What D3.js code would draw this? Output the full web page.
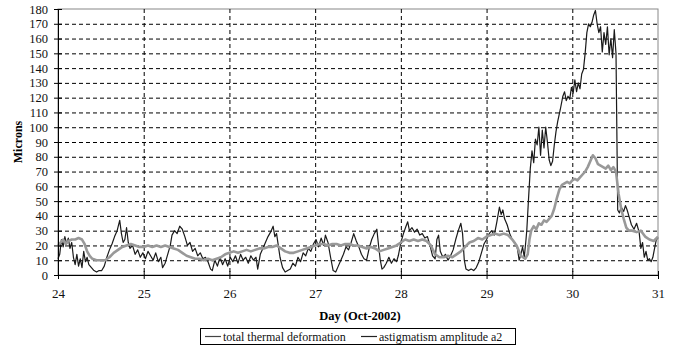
<!DOCTYPE html>
<html>
<head>
<meta charset="utf-8">
<script src="https://cdn.jsdelivr.net/npm/d3@7"></script>
<style>
  body { margin: 0; background: #fff; }
  svg { display: block; }
  .tick text { font-family: "Liberation Serif", "Times New Roman", serif; }
</style>
</head>
<body>
<svg id="chart" width="673" height="349"></svg>
<script>
// ---- data ----
const dayTicks = [24, 25, 26, 27, 28, 29, 30, 31];
const micronTicks = d3.range(0, 181, 10);
const seriesNames = ["total thermal deformation", "astigmatism amplitude a2"];

// total thermal deformation (black, noisy)
const thermalDays = [24.00,24.02,24.04,24.06,24.08,24.10,24.12,24.14,24.16,24.18,24.20,24.22,24.24,24.26,24.28,24.30,24.32,24.34,24.36,24.39,
  24.42,24.45,24.48,24.51,24.54,24.57,24.60,24.63,24.66,24.69,24.72,24.74,24.76,24.78,24.80,24.82,24.84,24.87,24.90,24.93,
  24.96,24.99,25.02,25.05,25.08,25.11,25.14,25.17,25.20,25.22,25.25,25.28,25.31,25.33,25.36,25.39,25.42,25.45,25.48,25.51,
  25.54,25.57,25.60,25.63,25.66,25.69,25.72,25.75,25.78,25.80,25.83,25.86,25.89,25.92,25.95,25.98,26.01,26.04,26.07,26.10,
  26.13,26.16,26.19,26.22,26.25,26.28,26.31,26.33,26.36,26.39,26.42,26.45,26.48,26.51,26.53,26.55,26.57,26.59,26.62,26.65,
  26.68,26.71,26.74,26.77,26.80,26.83,26.86,26.89,26.92,26.95,26.98,27.01,27.04,27.07,27.10,27.12,27.15,27.18,27.21,27.24,
  27.27,27.30,27.33,27.36,27.39,27.42,27.45,27.48,27.51,27.54,27.57,27.60,27.63,27.66,27.69,27.72,27.74,27.76,27.78,27.80,
  27.83,27.86,27.89,27.92,27.95,27.97,28.00,28.03,28.06,28.08,28.10,28.13,28.16,28.19,28.22,28.25,28.28,28.31,28.34,28.37,
  28.40,28.42,28.44,28.46,28.49,28.52,28.55,28.58,28.61,28.64,28.67,28.70,28.72,28.74,28.76,28.79,28.82,28.85,28.88,28.91,
  28.94,28.97,29.00,29.03,29.06,29.09,29.12,29.15,29.17,29.19,29.21,29.24,29.27,29.30,29.33,29.36,29.38,29.40,29.42,29.44,
  29.46,29.47,29.49,29.51,29.53,29.55,29.57,29.59,29.61,29.63,29.65,29.67,29.69,29.71,29.73,29.75,29.77,29.79,29.81,29.83,
  29.86,29.89,29.91,29.93,29.95,29.97,29.99,30.01,30.03,30.05,30.07,30.09,30.11,30.13,30.15,30.17,30.19,30.21,30.23,30.25,
  30.27,30.29,30.31,30.33,30.35,30.37,30.39,30.41,30.43,30.45,30.47,30.49,30.51,30.53,30.55,30.57,30.60,30.62,30.64,30.66,
  30.69,30.72,30.75,30.78,30.80,30.82,30.84,30.86,30.88,30.90,30.92,30.94,30.96,30.98,31.00];
const thermalValues = [11,14,24,19,26,21,25,18,22,12,7,14,6,11,5,16,9,12,7,5,
  3,2,3,3,6,12,17,21,26,30,37,28,22,24,32,22,18,20,14,17,
  12,15,11,16,13,10,15,9,12,5,8,14,20,27,30,28,33,31,26,20,
  22,16,18,13,15,11,12,9,4,3,10,6,12,7,11,6,12,9,13,8,
  14,10,12,8,13,10,12,4,14,18,22,26,29,33,26,28,20,12,5,2,
  3,4,8,6,12,9,15,13,18,16,21,24,19,25,20,27,22,12,3,2,
  6,10,14,19,17,22,28,23,19,14,11,10,18,24,28,31,20,10,4,5,
  8,12,8,11,9,13,22,28,33,36,30,32,29,31,27,28,25,26,20,13,
  11,24,27,16,12,14,10,13,17,24,30,35,28,10,4,3,4,3,5,9,
  15,21,24,28,30,27,36,46,41,44,38,34,28,24,22,18,10,14,19,12,
  24,31,52,72,84,76,92,88,100,81,98,86,100,90,78,74,77,88,97,104,
  112,121,124,118,121,119,127,123,132,124,130,126,136,139,150,164,170,168,171,176,
  179,170,164,168,151,164,156,168,149,160,147,166,150,44,42,46,43,47,44,40,
  34,31,35,29,18,22,12,16,10,11,9,12,18,24,25];

// astigmatism amplitude a2 (grey, smoother)
const astigDays = [24.00,24.03,24.06,24.09,24.12,24.16,24.20,24.24,24.28,24.31,24.34,24.37,24.40,24.45,24.50,24.55,24.60,24.65,24.70,24.75,
  24.80,24.85,24.90,24.95,25.00,25.05,25.10,25.15,25.20,25.25,25.30,25.35,25.40,25.45,25.50,25.55,25.60,25.65,25.70,25.75,
  25.80,25.85,25.90,25.95,26.00,26.05,26.10,26.15,26.20,26.25,26.30,26.35,26.40,26.45,26.50,26.55,26.60,26.65,26.70,26.75,
  26.80,26.85,26.90,26.95,27.00,27.05,27.10,27.15,27.20,27.25,27.30,27.35,27.40,27.45,27.50,27.55,27.60,27.65,27.70,27.75,
  27.80,27.85,27.90,27.95,28.00,28.05,28.10,28.15,28.20,28.25,28.30,28.35,28.40,28.45,28.50,28.55,28.60,28.65,28.70,28.75,
  28.80,28.85,28.90,28.95,29.00,29.05,29.10,29.15,29.20,29.25,29.30,29.35,29.40,29.45,29.48,29.50,29.52,29.55,29.58,29.61,
  29.64,29.67,29.70,29.73,29.76,29.79,29.82,29.85,29.88,29.91,29.94,29.97,30.00,30.03,30.06,30.09,30.12,30.15,30.18,30.21,
  30.24,30.27,30.30,30.33,30.36,30.39,30.42,30.45,30.48,30.51,30.54,30.57,30.60,30.63,30.66,30.70,30.75,30.80,30.85,30.90,
  30.95,31.00];
const astigValues = [20,22,24,21,23,24,24,25,24,21,16,13,11,10,10,10,12,15,17,19,
  20,21,20,19,19,20,19,20,19,20,19,18,17,15,13,12,11,11,10,11,
  10,11,12,14,15,16,15,16,17,16,17,18,18,19,19,20,18,16,15,15,
  16,17,18,19,20,21,21,20,21,21,20,21,21,20,20,19,18,19,18,16,
  17,18,19,20,22,24,23,24,23,24,23,20,14,12,12,13,12,14,16,19,
  22,23,25,24,26,27,28,27,28,27,24,20,13,11,14,24,30,33,31,35,
  34,37,36,38,40,45,52,58,61,62,63,62,64,65,64,66,68,70,73,77,
  81,79,75,74,73,72,74,71,73,70,55,45,38,32,30,30,29,30,26,24,
  23,26];

// ---- layout ----
const svg = d3.select("#chart");
const x = d3.scaleLinear().domain([24, 31]).range([58, 658]);
const y = d3.scaleLinear().domain([0, 180]).range([275, 9]);

// plot frame (top/right)
svg.append("rect")
  .attr("x", x(24)).attr("y", y(180))
  .attr("width", x(31) - x(24)).attr("height", y(0) - y(180))
  .attr("fill", "none").attr("stroke", "#888").attr("stroke-width", 1);

// dashed gridlines
svg.append("g").selectAll("line")
  .data(micronTicks.filter(d => d > 0 && d < 180))
  .join("line")
  .attr("x1", x(24)).attr("x2", x(31))
  .attr("y1", d => y(d) + 0.5).attr("y2", d => y(d) + 0.5)
  .attr("stroke", "#000").attr("stroke-width", 1).attr("stroke-dasharray", "4,3");

svg.append("g").selectAll("line")
  .data(dayTicks.filter(d => d > 24 && d < 31))
  .join("line")
  .attr("x1", d => x(d) + 0.5).attr("x2", d => x(d) + 0.5)
  .attr("y1", y(180)).attr("y2", y(0))
  .attr("stroke", "#000").attr("stroke-width", 1).attr("stroke-dasharray", "4,3");

// series
const line = d3.line().x(d => x(d[0])).y(d => y(d[1]));
const thermal = thermalDays.map((d, i) => [d, thermalValues[i]]);
const astig = astigDays.map((d, i) => [d, astigValues[i]]);

svg.append("path").datum(thermal)
  .attr("d", line).attr("fill", "none")
  .attr("stroke", "#1a1a1a").attr("stroke-width", 1.2).attr("stroke-linejoin", "round");

svg.append("path").datum(astig)
  .attr("d", line).attr("fill", "none")
  .attr("stroke", "#999").attr("stroke-width", 2.6).attr("stroke-linejoin", "round");

// axes (ticks cross the axis line)
const yAxis = d3.axisLeft(y).tickValues(micronTicks).tickSizeInner(4).tickSizeOuter(0).tickPadding(6);
const gy = svg.append("g").attr("transform", `translate(${x(24)},0)`).call(yAxis);
gy.selectAll(".tick line").attr("x2", 4).attr("x1", -4);
gy.select(".domain").attr("stroke", "#000");
gy.selectAll("text").attr("font-size", 12.5).attr("fill", "#111");

const xAxis = d3.axisBottom(x).tickValues(dayTicks).tickFormat(d3.format("d")).tickSizeInner(4).tickSizeOuter(0).tickPadding(10);
const gx = svg.append("g").attr("transform", `translate(0,${y(0)})`).call(xAxis);
gx.selectAll(".tick line").attr("y1", -4).attr("y2", 4);
gx.select(".domain").attr("stroke", "#000");
gx.selectAll("text").attr("font-size", 13).attr("fill", "#111");

// axis titles
svg.append("text")
  .attr("transform", `translate(22,${(y(0) + y(180)) / 2}) rotate(-90)`)
  .attr("text-anchor", "middle")
  .attr("font-family", "Liberation Serif, serif").attr("font-weight", "bold").attr("font-size", 12)
  .text("Microns");

svg.append("text")
  .attr("x", 360).attr("y", 320)
  .attr("text-anchor", "middle")
  .attr("font-family", "Liberation Serif, serif").attr("font-weight", "bold").attr("font-size", 12.5)
  .text("Day (Oct-2002)");

// legend
const lg = svg.append("g").attr("transform", "translate(200,328)");
lg.append("rect").attr("x", 0.5).attr("y", 0.5).attr("width", 315).attr("height", 16)
  .attr("fill", "#fff").attr("stroke", "#000");
const legendItems = [
  { name: seriesNames[0], color: "#444", x0: 5 },
  { name: seriesNames[1], color: "#222", x0: 161 }
];
legendItems.forEach(it => {
  lg.append("line").attr("x1", it.x0).attr("x2", it.x0 + 16).attr("y1", 8.5).attr("y2", 8.5)
    .attr("stroke", it.color).attr("stroke-width", 1.2);
  lg.append("text").attr("x", it.x0 + 18).attr("y", 12.5)
    .attr("font-family", "Liberation Serif, serif").attr("font-size", 12).attr("fill", "#111")
    .text(it.name);
});
</script>
</body>
</html>
